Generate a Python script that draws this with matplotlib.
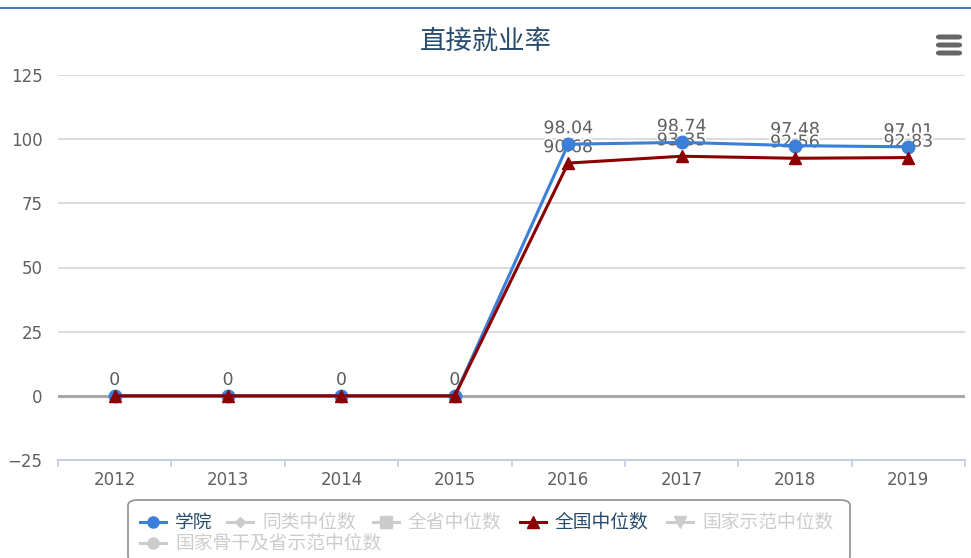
import matplotlib
matplotlib.use('Agg')
import matplotlib.pyplot as plt
from matplotlib.lines import Line2D
from matplotlib.patches import FancyBboxPatch
import matplotlib.patheffects as pe

# data
years = ['2012', '2013', '2014', '2015', '2016', '2017', '2018', '2019']
college = [0, 0, 0, 0, 98.04, 98.74, 97.48, 97.01]
national = [0, 0, 0, 0, 90.68, 93.35, 92.56, 92.83]
yticks = [-25, 0, 25, 50, 75, 100, 125]
legend_names = ['学院', '同类中位数', '全省中位数', '全国中位数', '国家示范中位数', '国家骨干及省示范中位数']
legend_active = [True, False, False, True, False, False]

W, H = 971, 558
CJK = ['Noto Sans CJK SC', 'DejaVu Sans']
plt.rcParams['font.family'] = ['DejaVu Sans', 'Noto Sans CJK SC']

fig = plt.figure(figsize=(W / 100, H / 100), dpi=100)


def fx(x):
    return x / W


def fy(y):
    return 1 - y / H


ax = fig.add_axes([fx(58), fy(460), fx(965) - fx(58), fy(75) - fy(460)])
x = list(range(len(years)))

ax.set_xlim(-0.5, len(years) - 0.5)
ax.set_ylim(-25, 125)
ax.set_yticks(yticks)
for t in yticks:
    if t == 0:
        ax.axhline(t, color='#a8a8a8', lw=2.2, zorder=1)
    elif t != -25:
        ax.axhline(t, color='#dcdcdc', lw=1.5, zorder=0)

for s in ['top', 'right', 'left']:
    ax.spines[s].set_visible(False)
ax.spines['bottom'].set_color('#c0d0e0')
ax.spines['bottom'].set_linewidth(1.5)
ax.tick_params(axis='y', length=0, pad=11, labelsize=12, labelcolor='#606060')
ax.set_xticks(x)
ax.set_xticklabels(years)
ax.tick_params(axis='x', length=0, pad=8, labelsize=12, labelcolor='#606060')
# category boundary ticks
for b in range(len(years) + 1):
    ax.plot([b - 0.5, b - 0.5], [-25, -27.5], color='#c0d0e0', lw=1.3,
            clip_on=False, zorder=1)

blue = '#3a80d8'
red = '#8b0000'
ax.plot(x, college, color=blue, lw=2.2, marker='o', ms=9, zorder=3)
ax.plot(x, national, color=red, lw=2.2, marker='^', ms=9, zorder=4)

outline = [pe.withStroke(linewidth=2.5, foreground='white')]
for xs, ys in [(x, college), (x, national)]:
    for xi, yi in zip(xs, ys):
        lbl = '0' if yi == 0 else f'{yi:.2f}'
        ax.annotate(lbl, (xi, yi), xytext=(0, 5), textcoords='offset points',
                    ha='center', va='bottom', fontsize=12.5, color='#606060',
                    path_effects=outline, zorder=2.5)

# title
fig.text(0.5, fy(41), '直接就业率', ha='center', va='center', fontsize=19,
         color='#274b6d', family=CJK)

# top border line
fig.add_artist(Line2D([0, 1], [fy(8), fy(8)], color='#4a78b8', lw=1.5))

# menu icon
for yy in [37, 45, 53]:
    fig.add_artist(FancyBboxPatch((fx(936), fy(yy + 2.5)), fx(26), fy(0) - fy(5),
                                  boxstyle='round,pad=0,rounding_size=0.004',
                                  fc='#666666', ec='none'))

# legend box
fig.add_artist(FancyBboxPatch((fx(128), fy(562)), fx(850) - fx(128), fy(500) - fy(562),
                              boxstyle='round,pad=0,rounding_size=0.01',
                              fc='white', ec='#909090', lw=1.2))

leg_markers = ['o', 'D', 's', '^', 'v', 'o']
leg_colors = [blue, '#cccccc', '#cccccc', red, '#cccccc', '#cccccc']
leg_pos = [(140, 522), (227, 522), (373, 522), (520, 522), (667, 522), (140, 543)]
for name, active, m, c, (lx, ly) in zip(legend_names, legend_active, leg_markers,
                                        leg_colors, leg_pos):
    fig.add_artist(Line2D([fx(lx), fx(lx + 26)], [fy(ly), fy(ly)], color=c, lw=2.2))
    fig.add_artist(Line2D([fx(lx + 13)], [fy(ly)], color=c, marker=m,
                          ms=8 if m != 'D' else 5.5, lw=0))
    fig.text(fx(lx + 35), fy(ly), name, ha='left', va='center', fontsize=13.5,
             color='#274b6d' if active else '#cccccc', family=CJK)

fig.savefig('out.png', dpi=100)
